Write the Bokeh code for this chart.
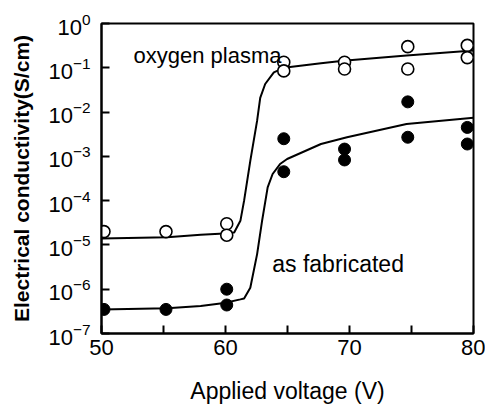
from bokeh.plotting import figure
from bokeh.models import FixedTicker, LogTickFormatter, Label
from bokeh.embed import file_html
from bokeh.resources import INLINE

# ---- data ----
volt_plasma = [50.2, 55.2, 60.1, 60.1, 64.7, 64.7, 69.6, 69.6, 74.7, 74.7, 79.5, 79.5]
cond_plasma = [2.0e-5, 2.0e-5, 3.0e-5, 1.66e-5, 0.133, 0.085, 0.133, 0.094, 0.30, 0.094, 0.32, 0.17]

volt_fab = [50.2, 55.2, 60.1, 60.1, 64.7, 64.7, 69.6, 69.6, 74.7, 74.7, 79.5, 79.5]
cond_fab = [3.5e-7, 3.5e-7, 1.0e-6, 4.4e-7, 2.5e-3, 4.5e-4, 1.46e-3, 8.3e-4, 0.017, 2.7e-3, 4.5e-3, 1.9e-3]

curve_plasma_x = [50.0, 55.3, 58.0, 59.9, 60.7, 61.2, 61.5, 62.0, 62.55, 62.8, 63.2, 63.9, 64.7, 67.7, 69.5, 74.6, 80.0]
curve_plasma_y = [1.4e-5, 1.5e-5, 1.7e-5, 1.8e-5, 1.9e-5, 3.5e-5, 1.0e-4, 7.9e-4, 6.4e-3, 2.1e-2, 4.3e-2, 7.9e-2, 0.10, 0.126, 0.145, 0.19, 0.245]

curve_fab_x = [50.0, 55.3, 58.0, 59.9, 61.2, 61.5, 62.0, 62.55, 62.95, 63.4, 63.8, 64.4, 64.97, 67.7, 69.8, 74.6, 80.0]
curve_fab_y = [3.5e-7, 3.7e-7, 4.2e-7, 4.9e-7, 5.9e-7, 6.2e-7, 1.08e-6, 6.2e-6, 3.5e-5, 2.0e-4, 4.0e-4, 6.7e-4, 8.7e-4, 1.9e-3, 2.7e-3, 5.4e-3, 7.4e-3]

x_major_ticks = [50, 60, 70, 80]
x_minor_ticks = [55, 65, 75]
y_ticks = [1e-7, 1e-6, 1e-5, 1e-4, 1e-3, 1e-2, 1e-1, 1e0]

FONT = "Liberation Sans"

p = figure(width=485, height=407, x_range=(50, 80), y_range=(1e-7, 1.0),
           y_axis_type="log", output_backend="svg", toolbar_location=None,
           min_border_left=101, min_border_right=12, min_border_top=23,
           min_border_bottom=74)
p.xgrid.visible = False
p.ygrid.visible = False
p.outline_line_color = "black"
p.outline_line_width = 2
p.background_fill_color = "white"
p.border_fill_color = "white"

# curves
p.line(curve_plasma_x, curve_plasma_y, line_color="black", line_width=2)
p.line(curve_fab_x, curve_fab_y, line_color="black", line_width=2)

# points
p.scatter(volt_plasma, cond_plasma, size=12, fill_color="white",
          line_color="black", line_width=1.6)
p.scatter(volt_fab, cond_fab, size=12, fill_color="black",
          line_color="black", line_width=1)

# axes
xa = p.xaxis[0]
xa.ticker = FixedTicker(ticks=x_major_ticks, minor_ticks=x_minor_ticks)
xa.axis_label = "Applied voltage (V)"
ya = p.yaxis[0]
ya.ticker = FixedTicker(ticks=y_ticks, minor_ticks=[])
ya.formatter = LogTickFormatter()
ya.axis_label = "Electrical conductivity(S/cm)"

for ax in (xa, ya):
    ax.axis_line_width = 2
    ax.axis_line_color = "black"
    ax.major_tick_line_width = 2
    ax.minor_tick_line_width = 2
    ax.major_tick_line_color = "black"
    ax.minor_tick_line_color = "black"
    ax.major_tick_in = 8
    ax.major_tick_out = 0
    ax.minor_tick_in = 8
    ax.minor_tick_out = 0
    ax.major_label_text_font = FONT
    ax.major_label_text_font_size = "22px"
    ax.major_label_text_color = "black"
    ax.axis_label_text_font = FONT
    ax.axis_label_text_color = "black"
    ax.axis_label_text_font_style = "normal"

xa.major_label_standoff = 6
xa.axis_label_standoff = 20
xa.axis_label_text_font_size = "23px"
ya.major_label_standoff = 11
ya.axis_label_standoff = 12
ya.axis_label_text_font_size = "21px"
ya.axis_label_text_font_style = "bold"

p.add_layout(Label(x=52.58, y=0.189, text="oxygen plasma", text_font=FONT,
                   text_font_size="22px", text_color="black",
                   text_baseline="alphabetic"))
p.add_layout(Label(x=63.77, y=3.66e-6, text="as fabricated", text_font=FONT,
                   text_font_size="23px", text_color="black",
                   text_baseline="alphabetic"))

open("out.html", "w").write(file_html(p, INLINE))
